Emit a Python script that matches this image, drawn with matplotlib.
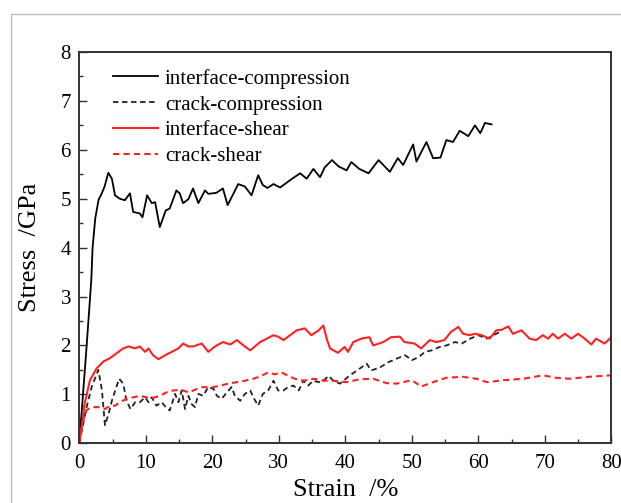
import matplotlib
matplotlib.use("Agg")
import matplotlib.pyplot as plt
from matplotlib.patches import Rectangle
from matplotlib.ticker import MultipleLocator

plt.rcParams['font.family'] = ['Liberation Serif', 'DejaVu Serif']

# interface-compression (black solid)
ic_x = [0, 0.5, 1.0, 1.5, 1.8, 2.0, 2.4, 2.9, 3.35, 3.8, 4.36, 4.9, 5.37, 6.1, 6.85, 7.62, 8.1, 9.1, 9.5,
        10.2, 10.9, 11.4, 12.1, 13.0, 13.6, 14.6, 15.1, 15.6, 16.4, 17.1, 17.9, 18.9, 19.4, 20.6, 21.6,
        22.3, 23.2, 23.9, 24.9, 25.9, 26.9, 27.6, 28.3, 29.2, 30.2, 31.7, 33.2, 34.2, 35.2, 36.2, 36.9,
        38.0, 39.0, 40.2, 40.9, 42.1, 43.5, 45.0, 46.7, 47.9, 48.7, 50.2, 50.7, 52.2, 53.2, 54.3, 55.2,
        56.2, 57.2, 58.5, 59.5, 60.3, 61.0, 62.0]
ic_y = [0, 0.9, 1.8, 2.75, 3.33, 4.0, 4.6, 4.98, 5.1, 5.25, 5.53, 5.41, 5.07, 5.0, 4.97, 5.11, 4.73, 4.70, 4.62,
        5.07, 4.91, 4.93, 4.42, 4.76, 4.80, 5.17, 5.11, 4.91, 4.99, 5.21, 4.91, 5.17, 5.10, 5.12, 5.21,
        4.87, 5.11, 5.30, 5.25, 5.07, 5.48, 5.28, 5.22, 5.30, 5.23, 5.38, 5.52, 5.41, 5.61, 5.44, 5.64,
        5.79, 5.66, 5.58, 5.75, 5.61, 5.52, 5.79, 5.55, 5.83, 5.69, 6.11, 5.76, 6.16, 5.83, 5.84, 6.20,
        6.16, 6.39, 6.28, 6.50, 6.34, 6.55, 6.52]

# crack-compression (black dashed)
cc_x = [0, 1.1, 1.86, 2.86, 3.4, 3.86, 4.4, 4.9, 5.4, 6.0, 6.6, 7.1, 7.7, 8.4, 9.1, 9.9, 10.4, 10.9, 11.6,
        12.4, 13.0, 13.6, 14.4, 14.9, 15.4, 15.9, 16.4, 16.9, 17.4, 17.9, 18.6, 19.4, 20.2, 20.7, 21.4,
        22.2, 22.9, 23.4, 24.2, 24.9, 25.7, 26.3, 26.9, 27.6, 28.4, 29.2, 29.9, 30.7, 31.4, 32.2, 33.0,
        33.7, 34.4, 35.2, 36.0, 36.7, 37.5, 38.2, 39.2, 40.7, 42.2, 43.2, 43.9, 45.2, 46.5, 47.7, 49.0,
        50.0, 51.0, 52.0, 53.0, 54.2, 55.2, 56.5, 57.5, 58.8, 60.0, 61.3, 62.3, 63.3]
cc_y = [0, 0.74, 1.15, 1.50, 1.09, 0.37, 0.60, 0.87, 1.08, 1.32, 1.22, 0.87, 0.70, 0.84, 0.84, 0.94, 0.84, 0.94, 0.77,
        0.84, 0.74, 0.67, 1.01, 0.84, 1.08, 0.70, 0.97, 0.80, 0.74, 1.01, 0.97, 1.15, 1.11, 0.97, 0.91,
        1.04, 1.15, 0.97, 0.87, 1.01, 1.08, 0.91, 0.77, 1.01, 1.08, 1.28, 1.08, 1.08, 1.15, 1.18, 1.08,
        1.28, 1.18, 1.28, 1.25, 1.28, 1.38, 1.28, 1.22, 1.39, 1.53, 1.63, 1.49, 1.55, 1.66, 1.73, 1.80,
        1.70, 1.76, 1.87, 1.90, 1.97, 2.00, 2.07, 2.04, 2.14, 2.21, 2.14, 2.21, 2.28]

# interface-shear (red solid)
is_x = [0, 0.35, 0.8, 1.6, 2.6, 3.6, 4.6, 5.6, 6.6, 7.4, 8.4, 9.1, 9.9, 10.4, 11.1, 11.9, 12.9, 13.9, 14.9,
        15.6, 16.4, 17.1, 18.4, 19.4, 20.4, 21.6, 22.7, 23.7, 24.7, 25.7, 26.4, 27.2, 28.2, 29.2, 29.9,
        30.7, 31.7, 32.7, 33.9, 34.9, 36.0, 36.7, 37.2, 37.7, 38.9, 39.9, 40.4, 41.2, 42.4, 43.6, 44.2,
        45.7, 46.9, 48.2, 48.9, 50.4, 51.4, 52.7, 53.7, 54.9, 55.9, 57.0, 57.7, 58.7, 59.5, 60.5, 61.7,
        62.7, 63.5, 64.5, 65.2, 66.5, 67.7, 68.7, 69.7, 70.5, 71.2, 72.0, 73.0, 74.0, 75.0, 76.0, 77.0,
        77.7, 79.0, 80.0]
is_y = [0, 0.33, 0.81, 1.29, 1.53, 1.67, 1.74, 1.84, 1.94, 1.98, 1.94, 1.98, 1.87, 1.94, 1.80, 1.72, 1.80, 1.87, 1.94,
        2.04, 1.98, 1.98, 2.04, 1.87, 1.98, 2.07, 2.02, 2.11, 2.00, 1.90, 1.98, 2.07, 2.14, 2.21, 2.18,
        2.11, 2.21, 2.31, 2.35, 2.21, 2.31, 2.41, 2.14, 1.94, 1.85, 1.97, 1.87, 2.07, 2.14, 2.17, 2.00,
        2.07, 2.17, 2.18, 2.07, 2.04, 1.94, 2.11, 2.07, 2.11, 2.28, 2.38, 2.24, 2.21, 2.24, 2.21, 2.14,
        2.31, 2.32, 2.39, 2.24, 2.31, 2.14, 2.11, 2.21, 2.14, 2.24, 2.14, 2.24, 2.14, 2.24, 2.14, 2.02,
        2.14, 2.04, 2.17]

# crack-shear (red dashed)
cs_x = [0, 0.2, 0.6, 1.1, 1.86, 2.86, 3.86, 4.6, 5.4, 6.1, 7.1, 8.1, 9.1, 10.1, 11.1, 12.1, 13.1, 14.1, 15.4,
        16.4, 17.7, 18.6, 19.9, 21.2, 22.4, 23.7, 24.9, 26.2, 27.4, 28.4, 29.4, 30.4, 31.4, 32.4, 33.7,
        35.2, 36.7, 38.0, 40.2, 42.2, 44.2, 46.2, 47.7, 50.0, 51.4, 53.2, 55.2, 57.7, 59.7, 61.3, 63.8,
        66.8, 69.7, 71.7, 73.7, 76.7, 80.0]
cs_y = [0, 0.20, 0.48, 0.68, 0.74, 0.74, 0.70, 0.77, 0.77, 0.84, 0.91, 0.94, 0.97, 0.94, 0.93, 0.97, 1.04, 1.08, 1.09,
        1.04, 1.11, 1.15, 1.14, 1.18, 1.22, 1.25, 1.28, 1.32, 1.38, 1.45, 1.41, 1.45, 1.38, 1.32, 1.28,
        1.32, 1.28, 1.28, 1.25, 1.31, 1.32, 1.23, 1.22, 1.29, 1.16, 1.25, 1.34, 1.36, 1.32, 1.25, 1.29,
        1.32, 1.39, 1.34, 1.32, 1.36, 1.39]

labels = ['interface-compression', 'crack-compression', 'interface-shear', 'crack-shear']
x_ticks = [0, 10, 20, 30, 40, 50, 60, 70, 80]
y_ticks = [0, 1, 2, 3, 4, 5, 6, 7, 8]

W, H = 621, 503
fig = plt.figure(figsize=(W / 100, H / 100), dpi=100)
fig.patches.append(Rectangle((11 / W, -0.1), 1.5, 1 - 14 / H + 0.1, transform=fig.transFigure,
                             fill=False, edgecolor='#bdbdbd', linewidth=1.0, clip_on=False))
ax = fig.add_axes([79.3 / W, 1 - 443.3 / H, (611.3 - 79.3) / W, (443.3 - 52) / H])

ax.plot(ic_x, ic_y, color='black', lw=1.3, label=labels[0])
ax.plot(cc_x, cc_y, color='#222222', lw=1.3, ls=(0, (3, 2)), label=labels[1])
ax.plot(is_x, is_y, color='#ff2020', lw=1.5, label=labels[2])
ax.plot(cs_x, cs_y, color='#ff2020', lw=1.5, ls=(0, (3, 2)), label=labels[3])

ax.set_xlim(0, 80)
ax.set_ylim(0, 8)
ax.set_xticks(x_ticks)
ax.set_yticks(y_ticks)
ax.xaxis.set_minor_locator(MultipleLocator(5))
ax.yaxis.set_minor_locator(MultipleLocator(0.5))
ax.tick_params(which='both', direction='in', top=False, right=False, labelsize=15, colors='#333333',
               labelcolor='black', width=1.0)
ax.tick_params(which='major', length=6)
ax.tick_params(axis='x', which='major', pad=8)
ax.tick_params(axis='y', which='major', pad=6)
ax.tick_params(which='minor', length=3)
for s in ax.spines.values():
    s.set_linewidth(1.4)
    s.set_color('#333333')

ax.set_xlabel('Strain  /%', fontsize=19, labelpad=4)
ax.set_ylabel('Stress  /GPa', fontsize=19, labelpad=14)

leg = ax.legend(loc='upper left', bbox_to_anchor=(0.063, 0.957), frameon=False, fontsize=15,
                handlelength=2.15, handletextpad=0.35, labelspacing=0.3, borderpad=0.0,
                borderaxespad=0.0)

fig.savefig('out.png', dpi=100)
